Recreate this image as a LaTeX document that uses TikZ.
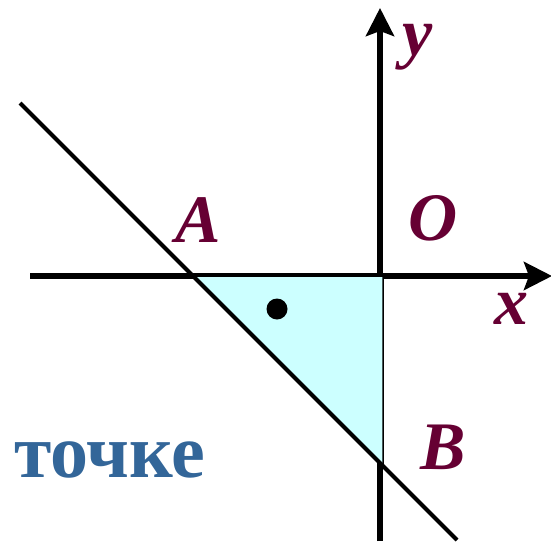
\documentclass[tikz,border=0pt]{standalone}
\usepackage{fontspec}
\setmainfont{Liberation Serif}
\usetikzlibrary{arrows.meta}
\definecolor{lblred}{RGB}{102,0,51}
\definecolor{wordblue}{RGB}{51,102,153}
\definecolor{areafill}{RGB}{204,255,255}

\begin{document}
\begin{tikzpicture}[x=1pt,y=-1pt,
  axis/.style={line width=5.5pt,-{Stealth[length=28pt,width=28pt,inset=5pt]}},
  lbl/.style={text=lblred,font=\fontsize{68}{68}\selectfont\bfseries\itshape,inner sep=0pt}]
\useasboundingbox (0,0) rectangle (551,541);
% points
\coordinate (xs) at (30,276);
\coordinate (xe) at (552,276);
\coordinate (ys) at (380,541);
\coordinate (ye) at (380,8);
\coordinate (ls) at (20,103);
\coordinate (le) at (457,540);
\coordinate (A) at (193,276);
\coordinate (C) at (383,276);
\coordinate (B) at (383,466);
% axes
\draw[axis] (xs) -- (xe);
\draw[axis] (ys) -- (ye);
% triangle
\filldraw[fill=areafill,draw=black,line width=1.5pt] (A) -- (C) -- (B) -- cycle;
\draw[line width=4pt] (ls) -- (le);
\fill (277,309) circle (10.5pt);
% labels
\foreach \p/\t in {{418,47}/y,{198,220}/A,{433,218}/O,{511,309}/x,{443,447}/B} {
  \node[lbl] at (\p) {\t};
}
\node[text=wordblue,font=\fontsize{76}{76}\selectfont\bfseries,anchor=base] (word) at (110,477) {точке};
\end{tikzpicture}
\end{document}
